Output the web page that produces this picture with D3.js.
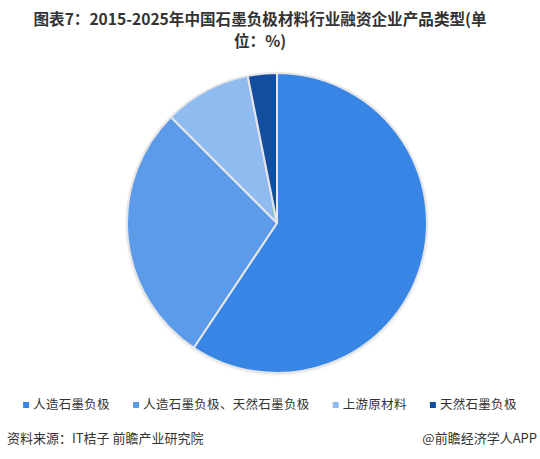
<!DOCTYPE html>
<html><head><meta charset="utf-8">
<script src="https://cdn.jsdelivr.net/npm/d3@7"></script>
<style>
html,body{margin:0;padding:0;background:#fff;}
svg{display:block;font-family:"Noto Sans CJK SC","Noto Sans",sans-serif;}
</style></head>
<body>
<svg id="chart" width="540" height="459"></svg>
<script>
const categories = ["人造石墨负极", "人造石墨负极、天然石墨负极", "上游原材料", "天然石墨负极"];
const values = [59.38, 28.13, 9.38, 3.13];
const colors = ["#3785e5", "#5b9be9", "#8fbbf1", "#134d9e"];
const titleLines = ["图表7：2015-2025年中国石墨负极材料行业融资企业产品类型(单", "位：%)"];
const sourceText = "资料来源：IT桔子 前瞻产业研究院";
const creditText = "@前瞻经济学人APP";

const svg = d3.select("#chart");
const W = 540;

// title
svg.append("g").selectAll("text").data(titleLines).join("text")
  .attr("x", 260).attr("y", (d,i)=> 25 + i*22)
  .attr("text-anchor","middle")
  .attr("font-size", 15.6).attr("font-weight","bold").attr("fill","#333")
  .text(d=>d);

// pie
const cx = 277, cy = 223, R = 150;
const defs = svg.append("defs");
const f = defs.append("filter").attr("id","sh").attr("x","-10%").attr("y","-10%").attr("width","120%").attr("height","120%");
f.append("feDropShadow").attr("dx",0).attr("dy",1).attr("stdDeviation",1.5).attr("flood-color","#000").attr("flood-opacity",0.18);

const pie = d3.pie().sort(null).value(d=>d)(values);
const arc = d3.arc().innerRadius(0).outerRadius(R);
const g = svg.append("g").attr("transform",`translate(${cx},${cy})`);
g.append("circle").attr("r",R).attr("fill","#fff").attr("filter","url(#sh)");
g.selectAll("path").data(pie).join("path")
  .attr("d", arc)
  .attr("fill",(d,i)=>colors[i])
  .attr("stroke","#e6e6e6").attr("stroke-width",2).attr("stroke-linejoin","round");

// legend
const lg = svg.append("g");
const fs = 12.5, gap = 23;
const items = lg.selectAll("g").data(categories).join("g");
items.append("rect").attr("width",6).attr("height",6).attr("y",-3).attr("fill",(d,i)=>colors[i]);
items.append("text").attr("x",10).attr("y",0).attr("dy","0.35em")
  .attr("font-size",fs).attr("fill","#333").attr("letter-spacing",0.3).text(d=>d);
let widths = [];
items.each(function(){ widths.push(this.getBBox().width); });
const total = d3.sum(widths) + gap*(widths.length-1);
let x0 = W/2 - total/2;
items.attr("transform",(d,i)=>{ const t = `translate(${x0},405)`; x0 += widths[i] + gap; return t; });

// footer
svg.append("text").attr("x",7).attr("y",438).attr("dy","0.35em")
  .attr("font-size",13).attr("fill","#333").text(sourceText);
svg.append("text").attr("x",537).attr("y",438).attr("dy","0.35em").attr("text-anchor","end")
  .attr("font-size",13).attr("fill","#333").text(creditText);
</script>
</body></html>
